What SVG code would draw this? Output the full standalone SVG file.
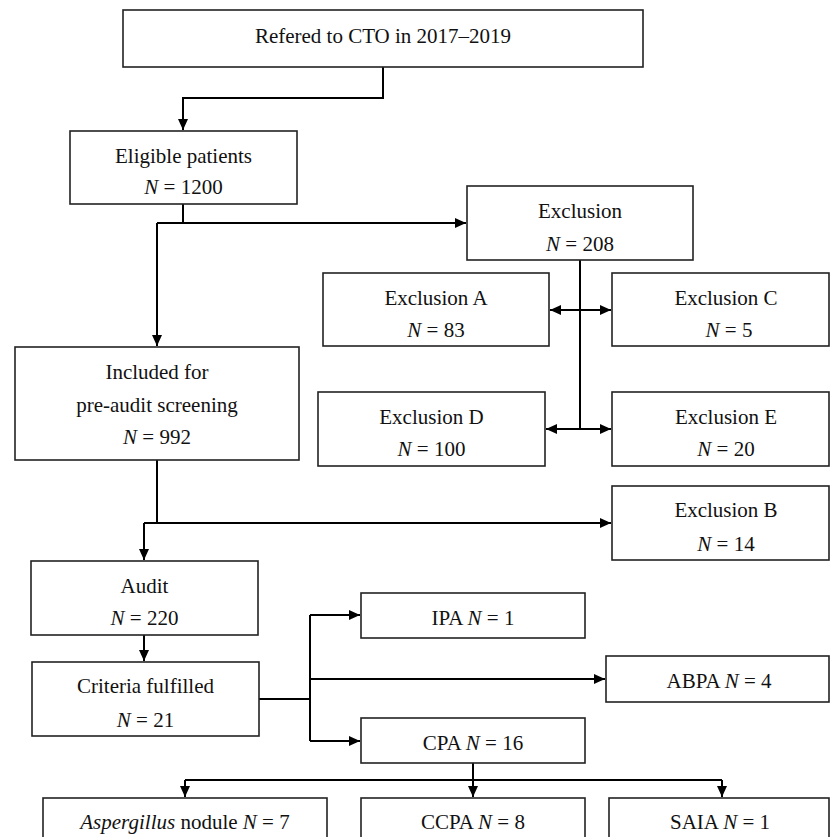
<svg xmlns="http://www.w3.org/2000/svg" width="830" height="837" viewBox="0 0 830 837">
<style>
.box{fill:#fff;stroke:#222;stroke-width:1.6}
text{font-family:"Liberation Serif","Times New Roman",serif;font-size:21px;fill:#111;text-anchor:middle}
.i{font-style:italic}
.c{fill:none;stroke:#000;stroke-width:2}
</style>
<defs>
<marker id="ah" markerUnits="userSpaceOnUse" markerWidth="12" markerHeight="12" refX="11" refY="6" orient="auto-start-reverse">
<path d="M0,1 L11,6 L0,11 z" fill="#000"/>
</marker>
</defs>
<rect width="830" height="837" fill="#fff"/>
<g id="connectors">
<path class="c" d="M383 67 V98 H183 V130" marker-end="url(#ah)"/>
<path class="c" d="M183 204 V223"/>
<path class="c" d="M157 223 H466" marker-end="url(#ah)"/>
<path class="c" d="M157 223 V346" marker-end="url(#ah)"/>
<path class="c" d="M580 260 V429"/>
<path class="c" d="M550 310 H611" marker-start="url(#ah)" marker-end="url(#ah)"/>
<path class="c" d="M546 429 H611" marker-start="url(#ah)" marker-end="url(#ah)"/>
<path class="c" d="M157 460 V523"/>
<path class="c" d="M144 523 H611" marker-end="url(#ah)"/>
<path class="c" d="M144 523 V560" marker-end="url(#ah)"/>
<path class="c" d="M144 635 V661" marker-end="url(#ah)"/>
<path class="c" d="M259 699 H310"/>
<path class="c" d="M310 615 V741"/>
<path class="c" d="M310 615 H360" marker-end="url(#ah)"/>
<path class="c" d="M310 741 H360" marker-end="url(#ah)"/>
<path class="c" d="M310 679 H605" marker-end="url(#ah)"/>
<path class="c" d="M473 763 V797" marker-end="url(#ah)"/>
<path class="c" d="M185 780 H722"/>
<path class="c" d="M185 780 V797" marker-end="url(#ah)"/>
<path class="c" d="M722 780 V797" marker-end="url(#ah)"/>
</g>
<g id="n-referred">
<rect class="box" x="123" y="10" width="520" height="57"/>
<text x="383" y="43">Refered to CTO in 2017–2019</text>
</g>
<g id="n-eligible">
<rect class="box" x="70" y="131" width="227" height="73"/>
<text x="183.5" y="163">Eligible patients</text>
<text x="183.5" y="194"><tspan class="i">N</tspan> = 1200</text>
</g>
<g id="n-exclusion">
<rect class="box" x="467" y="186" width="226" height="74"/>
<text x="580" y="218">Exclusion</text>
<text x="580" y="251"><tspan class="i">N</tspan> = 208</text>
</g>
<g id="n-excl-a">
<rect class="box" x="323" y="273" width="226" height="73"/>
<text x="436" y="305">Exclusion A</text>
<text x="436" y="337"><tspan class="i">N</tspan> = 83</text>
</g>
<g id="n-excl-c">
<rect class="box" x="612" y="273" width="217" height="73"/>
<text x="726" y="305">Exclusion C</text>
<text x="729" y="337"><tspan class="i">N</tspan> = 5</text>
</g>
<g id="n-included">
<rect class="box" x="15" y="347" width="284" height="113"/>
<text x="157" y="379">Included for</text>
<text x="157" y="412">pre-audit screening</text>
<text x="157" y="444"><tspan class="i">N</tspan> = 992</text>
</g>
<g id="n-excl-d">
<rect class="box" x="318" y="392" width="227" height="74"/>
<text x="431.5" y="424">Exclusion D</text>
<text x="431.5" y="456"><tspan class="i">N</tspan> = 100</text>
</g>
<g id="n-excl-e">
<rect class="box" x="612" y="392" width="217" height="74"/>
<text x="726" y="424">Exclusion E</text>
<text x="726" y="456"><tspan class="i">N</tspan> = 20</text>
</g>
<g id="n-excl-b">
<rect class="box" x="612" y="486" width="217" height="74"/>
<text x="726" y="517">Exclusion B</text>
<text x="726" y="551"><tspan class="i">N</tspan> = 14</text>
</g>
<g id="n-audit">
<rect class="box" x="31" y="561" width="227" height="74"/>
<text x="144.5" y="593">Audit</text>
<text x="144.5" y="625"><tspan class="i">N</tspan> = 220</text>
</g>
<g id="n-ipa">
<rect class="box" x="361" y="593" width="224" height="45"/>
<text x="473" y="625">IPA <tspan class="i">N</tspan> = 1</text>
</g>
<g id="n-abpa">
<rect class="box" x="606" y="656" width="223" height="46"/>
<text x="719" y="688">ABPA <tspan class="i">N</tspan> = 4</text>
</g>
<g id="n-criteria">
<rect class="box" x="32" y="662" width="227" height="74"/>
<text x="145.5" y="693">Criteria fulfilled</text>
<text x="145.5" y="727"><tspan class="i">N</tspan> = 21</text>
</g>
<g id="n-cpa">
<rect class="box" x="361" y="718" width="224" height="45"/>
<text x="473" y="750">CPA <tspan class="i">N</tspan> = 16</text>
</g>
<g id="n-nodule">
<rect class="box" x="43" y="798" width="284" height="50"/>
<text x="185" y="829"><tspan class="i">Aspergillus</tspan> nodule <tspan class="i">N</tspan> = 7</text>
</g>
<g id="n-ccpa">
<rect class="box" x="361" y="798" width="224" height="50"/>
<text x="473" y="829">CCPA <tspan class="i">N</tspan> = 8</text>
</g>
<g id="n-saia">
<rect class="box" x="609" y="798" width="220" height="50"/>
<text x="720" y="829">SAIA <tspan class="i">N</tspan> = 1</text>
</g>
</svg>
